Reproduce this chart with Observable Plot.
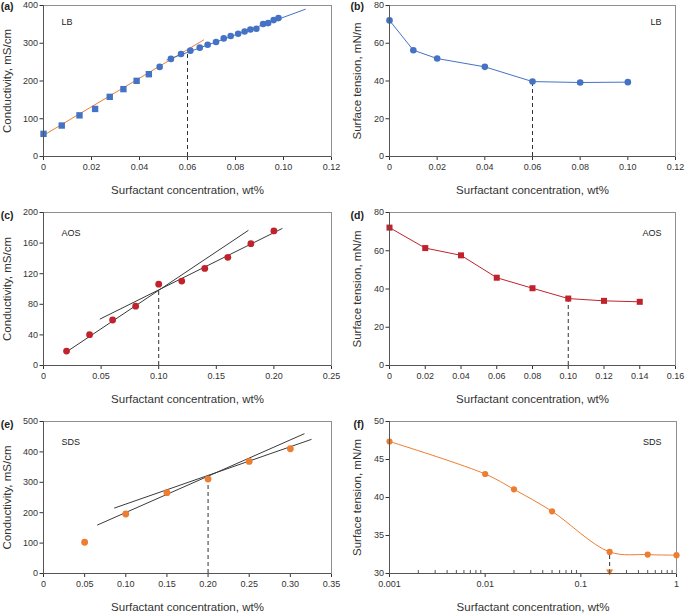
<!DOCTYPE html>
<html><head><meta charset="utf-8">
<script src="https://cdn.jsdelivr.net/npm/d3@7"></script>
<script src="https://cdn.jsdelivr.net/npm/@observablehq/plot@0.6"></script>
<style>
body{margin:0;background:#fff}
#wrap{position:relative;width:685px;height:613px;overflow:hidden;font-family:"Liberation Sans",Arial,sans-serif;background:#fff}
.panel{position:absolute}
.plab{position:absolute;font-weight:bold;font-size:10.5px;line-height:1;color:#222;text-align:right;width:20px}
svg g[aria-label="x-axis label"], svg g[aria-label="y-axis label"]{font-size:11.5px}
</style></head>
<body><div id="wrap"></div>
<script>
// ---------- data ----------
const panelNames = ["(a)", "(b)", "(c)", "(d)", "(e)", "(f)"];
const surfactants = ["LB", "LB", "AOS", "AOS", "SDS", "SDS"];
const xTitle = "Surfactant concentration, wt%";
const yTitleCond = "Conductivity, mS/cm";
const yTitleTension = "Surface tension, mN/m";

// (a) LB conductivity
const lbCondSqX = [0, 0.0076, 0.015, 0.0215, 0.0276, 0.0333, 0.0388, 0.0439];
const lbCondSqY = [60, 82, 109, 126, 158, 178.5, 200.4, 218];
const lbCondCircX = [0.0484, 0.0531, 0.0573, 0.0612, 0.0651, 0.0684, 0.0719, 0.0751, 0.078, 0.0811, 0.0838, 0.0862, 0.0887, 0.0915, 0.0936, 0.0959, 0.0979];
const lbCondCircY = [237.4, 258.5, 271.7, 280.4, 288.3, 296.2, 303.3, 312.8, 319.2, 325.2, 331.3, 336.6, 338.4, 350.8, 353.4, 361.3, 366.6];
const lbFitLowX = [0, 0.0667];
const lbFitLowY = [56, 308.6];
const lbFitHighX = [0.0514, 0.1091];
const lbFitHighY = [255.8, 390];
const lbCmcCondX = [0.06];
const lbCmcCondY = [280.4];
const xTicksA = [0, 0.02, 0.04, 0.06, 0.08, 0.10, 0.12];
const xLabelsA = ["0", "0.02", "0.04", "0.06", "0.08", "0.10", "0.12"];
const yTicksA = [0, 100, 200, 300, 400];

// (b) LB surface tension
const lbTensionX = [0, 0.01, 0.02, 0.04, 0.06, 0.08, 0.10];
const lbTensionY = [72.1, 56.3, 51.9, 47.5, 39.7, 39.2, 39.4];
const lbCmcTenX = [0.06];
const lbCmcTenY = [39.7];
const yTicksB = [0, 20, 40, 60, 80];

// (c) AOS conductivity
const aosCondX = [0.02, 0.04, 0.06, 0.08, 0.10, 0.12, 0.14, 0.16, 0.18, 0.20];
const aosCondY = [18.8, 40.3, 59.5, 77.5, 106.3, 110.3, 126.9, 141.4, 159.3, 175.9];
const aosFit1X = [0.0188, 0.1776];
const aosFit1Y = [16.6, 176.4];
const aosFit2X = [0.0492, 0.2071];
const aosFit2Y = [60.8, 179];
const aosCmcCondX = [0.10];
const aosCmcCondY = [100];
const xTicksC = [0, 0.05, 0.10, 0.15, 0.20, 0.25];
const xLabelsC = ["0", "0.05", "0.10", "0.15", "0.20", "0.25"];
const yTicksC = [0, 40, 80, 120, 160, 200];

// (d) AOS surface tension
const aosTensionX = [0, 0.02, 0.04, 0.06, 0.08, 0.10, 0.12, 0.14];
const aosTensionY = [72.1, 61.4, 57.6, 45.9, 40.4, 35.0, 33.8, 33.3];
const aosCmcTenX = [0.10];
const aosCmcTenY = [35.0];
const xTicksD = [0, 0.02, 0.04, 0.06, 0.08, 0.10, 0.12, 0.14, 0.16];
const xLabelsD = ["0", "0.02", "0.04", "0.06", "0.08", "0.10", "0.12", "0.14", "0.16"];
const yTicksD = [0, 20, 40, 60, 80];

// (e) SDS conductivity
const sdsCondX = [0.05, 0.10, 0.15, 0.20, 0.25, 0.30];
const sdsCondY = [102.8, 195.8, 265.9, 310.7, 368.7, 410.3];
const sdsFit1X = [0.0657, 0.3167];
const sdsFit1Y = [159.7, 459.5];
const sdsFit2X = [0.0864, 0.3253];
const sdsFit2Y = [215.5, 440.9];
const sdsCmcCondX = [0.20];
const sdsCmcCondY = [316];
const xTicksE = [0, 0.05, 0.10, 0.15, 0.20, 0.25, 0.30, 0.35];
const xLabelsE = ["0", "0.05", "0.10", "0.15", "0.20", "0.25", "0.30", "0.35"];
const yTicksE = [0, 100, 200, 300, 400, 500];

// (f) SDS surface tension (log x)
const sdsTensionX = [0.001, 0.01, 0.02, 0.05, 0.2, 0.5, 1];
const sdsTensionY = [47.37, 43.09, 41.07, 38.18, 32.84, 32.49, 32.41];
const sdsCmcTenX = [0.2];
const sdsCmcTenY = [32.84];
const xTicksF = [0.001, 0.01, 0.1, 1];
const xLabelsF = ["0.001", "0.01", "0.1", "1"];
const xMinorF = [0.002,0.003,0.004,0.005,0.006,0.007,0.008,0.009,0.02,0.03,0.04,0.05,0.06,0.07,0.08,0.09,0.2,0.3,0.4,0.5,0.6,0.7,0.8,0.9];
const yTicksF = [30, 35, 40, 45, 50];

// ---------- styles ----------
const BLUE = "#4472C4", ORANGE = "#ED7D31", RED = "#C0232B", DARK = "#3a3a3a";
const pts = (xs, ys) => xs.map((x, i) => ({x, y: ys[i]}));

const wrap = document.getElementById("wrap");

function panel(cfg) {
  const fh = cfg.height - cfg.mt - cfg.mb;
  const marks = [
    Plot.frame({stroke: "#8f8f8f"}),
    ...cfg.marks,
    Plot.ruleX([cfg.xDomain[0]], {stroke: "#555"}),
    Plot.ruleY([cfg.yDomain[0]], {stroke: "#555"}),
    Plot.text([cfg.name], {frameAnchor: cfg.nameAnchor, dx: cfg.ndx, dy: cfg.ndy, lineAnchor: "top",
      textAnchor: cfg.nameAnchor === "top-left" ? "start" : "end", fontSize: 9, fill: "#222"})
  ];
  if (cfg.minor) marks.push(Plot.tickX(cfg.minor, {x: d => d, stroke: "#555", insetTop: fh - 3}));
  const chart = Plot.plot({
    width: cfg.width, height: cfg.height,
    marginLeft: cfg.ml, marginRight: cfg.mr, marginTop: cfg.mt, marginBottom: cfg.mb,
    style: {fontFamily: '"Liberation Sans", Arial, sans-serif', fontSize: "9px", color: "#333", background: "transparent", overflow: "visible"},
    x: {type: cfg.xType || "linear", domain: cfg.xDomain, ticks: cfg.xTicks,
        tickFormat: d => cfg.xLabels[cfg.xTicks.indexOf(d)],
        tickSize: 4, tickPadding: 3, label: xTitle, labelAnchor: "center", labelArrow: "none", labelOffset: cfg.xlo},
    y: {domain: cfg.yDomain, ticks: cfg.yTicks, tickSize: 3.5, tickPadding: 2,
        label: cfg.yLabel, labelAnchor: "center", labelArrow: "none", labelOffset: cfg.ylo},
    marks
  });
  chart.classList.add("panel");
  chart.style.left = cfg.left + "px";
  chart.style.top = cfg.top + "px";
  wrap.appendChild(chart);
}

function dashed(xs, ys, y0) {
  return Plot.ruleX(pts(xs, ys), {x: "x", y1: () => y0, y2: "y", stroke: "#333", strokeDasharray: "4,3", strokeWidth: 1});
}

// (a)
panel({
  name: surfactants[0], nameAnchor: "top-left", ndx: 18, ndy: 13,
  left: 0, top: 0, width: 340, height: 200, ml: 43, mr: 9, mt: 5, mb: 44, xlo: 37, ylo: 41,
  xDomain: [0, 0.12], xTicks: xTicksA, xLabels: xLabelsA, yDomain: [0, 400], yTicks: yTicksA, yLabel: yTitleCond,
  marks: [
    Plot.line(pts(lbFitLowX, lbFitLowY), {x: "x", y: "y", stroke: ORANGE, strokeWidth: 1}),
    Plot.line(pts(lbFitHighX, lbFitHighY), {x: "x", y: "y", stroke: BLUE, strokeWidth: 1}),
    dashed(lbCmcCondX, lbCmcCondY, 0),
    Plot.dot(pts(lbCondSqX, lbCondSqY), {x: "x", y: "y", symbol: "square", r: 3.6, fill: BLUE}),
    Plot.dot(pts(lbCondCircX, lbCondCircY), {x: "x", y: "y", r: 3.3, fill: BLUE})
  ]
});

// (b)
panel({
  name: surfactants[1], nameAnchor: "top-right", ndx: -14, ndy: 13,
  left: 340, top: 0, width: 345, height: 200, ml: 49, mr: 10, mt: 5, mb: 44, xlo: 37, ylo: 37,
  xDomain: [0, 0.12], xTicks: xTicksA, xLabels: xLabelsA, yDomain: [0, 80], yTicks: yTicksB, yLabel: yTitleTension,
  marks: [
    dashed(lbCmcTenX, lbCmcTenY, 0),
    Plot.line(pts(lbTensionX, lbTensionY), {x: "x", y: "y", stroke: BLUE, strokeWidth: 1}),
    Plot.dot(pts(lbTensionX, lbTensionY), {x: "x", y: "y", r: 3.3, fill: BLUE})
  ]
});

// (c)
panel({
  name: surfactants[2], nameAnchor: "top-left", ndx: 18, ndy: 17,
  left: 0, top: 207, width: 340, height: 202, ml: 43, mr: 9, mt: 5, mb: 44, xlo: 37, ylo: 41,
  xDomain: [0, 0.25], xTicks: xTicksC, xLabels: xLabelsC, yDomain: [0, 200], yTicks: yTicksC, yLabel: yTitleCond,
  marks: [
    Plot.line(pts(aosFit1X, aosFit1Y), {x: "x", y: "y", stroke: DARK, strokeWidth: 1}),
    Plot.line(pts(aosFit2X, aosFit2Y), {x: "x", y: "y", stroke: DARK, strokeWidth: 1}),
    dashed(aosCmcCondX, aosCmcCondY, 0),
    Plot.dot(pts(aosCondX, aosCondY), {x: "x", y: "y", r: 3.4, fill: RED})
  ]
});

// (d)
panel({
  name: surfactants[3], nameAnchor: "top-right", ndx: -14, ndy: 17,
  left: 340, top: 207, width: 345, height: 202, ml: 49, mr: 10, mt: 5, mb: 44, xlo: 37, ylo: 37,
  xDomain: [0, 0.16], xTicks: xTicksD, xLabels: xLabelsD, yDomain: [0, 80], yTicks: yTicksD, yLabel: yTitleTension,
  marks: [
    dashed(aosCmcTenX, aosCmcTenY, 0),
    Plot.line(pts(aosTensionX, aosTensionY), {x: "x", y: "y", stroke: RED, strokeWidth: 1}),
    Plot.dot(pts(aosTensionX, aosTensionY), {x: "x", y: "y", symbol: "square", r: 3.4, fill: RED})
  ]
});

// (e)
panel({
  name: surfactants[4], nameAnchor: "top-left", ndx: 18, ndy: 17,
  left: 0, top: 416, width: 340, height: 197, ml: 43, mr: 9, mt: 5, mb: 40, xlo: 37, ylo: 41,
  xDomain: [0, 0.35], xTicks: xTicksE, xLabels: xLabelsE, yDomain: [0, 500], yTicks: yTicksE, yLabel: yTitleCond,
  marks: [
    Plot.line(pts(sdsFit1X, sdsFit1Y), {x: "x", y: "y", stroke: DARK, strokeWidth: 1}),
    Plot.line(pts(sdsFit2X, sdsFit2Y), {x: "x", y: "y", stroke: DARK, strokeWidth: 1}),
    dashed(sdsCmcCondX, sdsCmcCondY, 0),
    Plot.dot(pts(sdsCondX, sdsCondY), {x: "x", y: "y", r: 3.4, fill: ORANGE})
  ]
});

// (f)
panel({
  name: surfactants[5], nameAnchor: "top-right", ndx: -15, ndy: 17,
  left: 340, top: 416, width: 345, height: 197, ml: 49, mr: 9, mt: 5, mb: 40, xlo: 37, ylo: 37,
  xType: "log", xDomain: [0.001, 1], xTicks: xTicksF, xLabels: xLabelsF, minor: xMinorF,
  yDomain: [30, 50], yTicks: yTicksF, yLabel: yTitleTension,
  marks: [
    dashed(sdsCmcTenX, sdsCmcTenY, 30),
    Plot.line(pts(sdsTensionX, sdsTensionY), {x: "x", y: "y", stroke: ORANGE, strokeWidth: 1, curve: "catmull-rom"}),
    Plot.dot(pts(sdsTensionX, sdsTensionY), {x: "x", y: "y", r: 3.1, fill: ORANGE}),
    Plot.dot(pts(sdsCmcTenX, [30]), {x: "x", y: "y", symbol: "triangle", rotate: 180, r: 2.6, dy: -2, fill: ORANGE})
  ]
});

// panel letters
const letterPos = [[-6.5, 1], [344, 1], [-6.5, 210], [344, 210], [-6.5, 419], [344, 419]];
panelNames.forEach((n, i) => {
  const d = document.createElement("div");
  d.className = "plab";
  d.textContent = n;
  d.style.left = letterPos[i][0] + "px";
  d.style.top = letterPos[i][1] + "px";
  wrap.appendChild(d);
});
</script>
</body></html>
